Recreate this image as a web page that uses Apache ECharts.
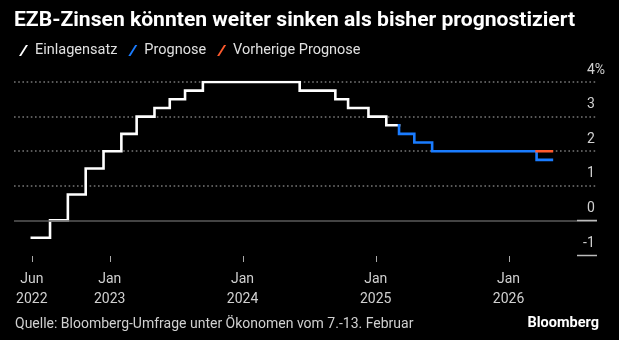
<!DOCTYPE html>
<html>
<head>
<meta charset="utf-8">
<script src="https://cdn.jsdelivr.net/npm/echarts@6/dist/echarts.min.js"></script>
<style>
  html, body { margin: 0; padding: 0; background: #000; }
  #chart { width: 619px; height: 340px; }
</style>
</head>
<body>
<div id="chart"></div>
<script>
// ECB deposit rate (value effective from each decision date; last entry closes the segment)
const depositDates = ['2022-06-01', '2022-07-21', '2022-09-08', '2022-10-27', '2022-12-15',
  '2023-02-02', '2023-03-16', '2023-05-04', '2023-06-15', '2023-07-27', '2023-09-14',
  '2024-06-06', '2024-09-12', '2024-10-17', '2024-12-12', '2025-01-30', '2025-03-06'];
const depositRates = [-0.5, 0, 0.75, 1.5, 2.0, 2.5, 3.0, 3.25, 3.5, 3.75, 4.0,
  3.75, 3.5, 3.25, 3.0, 2.75, 2.75];

// Survey forecast path
const forecastDates = ['2025-03-06', '2025-04-17', '2025-06-05', '2026-03-19', '2026-04-30'];
const forecastRates = [2.5, 2.25, 2.0, 1.75, 1.75];

// Previous survey forecast where it differs
const priorDates = ['2026-03-19', '2026-04-30'];
const priorRates = [2.0, 2.0];

const seriesNames = ['Einlagensatz', 'Prognose', 'Vorherige Prognose'];
const xTickDates = ['2022-06-01', '2023-01-01', '2024-01-01', '2025-01-01', '2026-01-01'];
const xTickLabels = ['Jun\n2022', 'Jan\n2023', 'Jan\n2024', 'Jan\n2025', 'Jan\n2026'];
const yTicks = [-1, 0, 1, 2, 3, 4];
const xRange = ['2022-04-13', '2026-09-01'];

const titleText = 'EZB-Zinsen könnten weiter sinken als bisher prognostiziert';
const sourceText = 'Quelle: Bloomberg-Umfrage unter Ökonomen vom 7.-13. Februar';

const ts = s => new Date(s + 'T00:00:00Z').getTime();
const pairs = (dates, rates) => dates.map((d, i) => [ts(d), rates[i]]);

const depositData = pairs(depositDates, depositRates);
// forecast starts from the last observed rate so the first cut connects
const forecastData = [depositData[depositData.length - 1]].concat(pairs(forecastDates, forecastRates));
const priorData = pairs(priorDates, priorRates);
const xTickValues = xTickDates.map(ts);

const FONT = 'Roboto';
const colors = { deposit: '#ffffff', forecast: '#1a7cff', prior: '#ff5b2e' };
const slash = 'path://M8,0 L10.5,0 L2.5,13 L0,13 Z';

const chart = echarts.init(document.getElementById('chart'), null, { renderer: 'canvas' });

const stepLine = (name, data, color, z) => ({
  name, type: 'line', data, step: 'end', showSymbol: false, z,
  lineStyle: { color, width: 2.6, join: 'miter', cap: 'square' },
  itemStyle: { color },
  emphasis: { disabled: true },
  animation: false
});

chart.setOption({
  backgroundColor: '#000',
  animation: false,
  textStyle: { fontFamily: FONT },
  title: {
    text: titleText,
    left: 9, top: 5,
    textStyle: { color: '#fff', fontSize: 21.1, fontWeight: 'bold', fontFamily: FONT }
  },
  legend: {
    data: seriesNames,
    left: 14, top: 38,
    icon: slash,
    itemWidth: 9, itemHeight: 13, itemGap: 11,
    textStyle: { color: '#e0e0e0', fontSize: 14.5, fontFamily: FONT, padding: [0, 0, 0, 2] },
    selectedMode: false
  },
  grid: { left: 14, right: 22, top: 82, bottom: 85, containLabel: false },
  xAxis: {
    type: 'value',
    min: ts(xRange[0]), max: ts(xRange[1]),
    axisLine: { show: false },
    axisTick: { show: false },
    axisLabel: {
      customValues: xTickValues,
      formatter: v => xTickLabels[xTickValues.indexOf(v)] || '',
      color: '#d0d0d0', fontSize: 14, lineHeight: 20, margin: 14, fontFamily: FONT
    },
    splitLine: { show: false }
  },
  yAxis: {
    type: 'value',
    position: 'right',
    min: yTicks[0], max: yTicks[yTicks.length - 1], interval: 1,
    axisLine: { show: false },
    axisTick: { show: false },
    axisLabel: {
      margin: 8,
      align: 'right',
      verticalAlign: 'bottom',
      padding: [0, 0, 5, 0],
      formatter: v => v === yTicks[yTicks.length - 1] ? '{n|' + v + '%}' : '{n|' + v + '}{h|%}',
      rich: {
        n: { color: '#d0d0d0', fontSize: 14, fontFamily: FONT },
        h: { color: 'transparent', fontSize: 14, fontFamily: FONT }
      }
    },
    splitLine: {
      show: true,
      lineStyle: {
        color: ['transparent', 'transparent', '#777', '#777', '#777', '#777'],
        type: [1.6, 2.6], width: 1.6
      }
    }
  },
  series: [
    stepLine(seriesNames[0], depositData, colors.deposit, 3),
    stepLine(seriesNames[1], forecastData, colors.forecast, 3),
    stepLine(seriesNames[2], priorData, colors.prior, 4),
    {
      name: 'zero', type: 'line', data: [], z: 1, silent: true,
      markLine: {
        silent: true, symbol: 'none', animation: false,
        label: { show: false },
        lineStyle: { color: '#5a5a5a', type: 'solid', width: 1.5 },
        data: [{ yAxis: 0 }]
      }
    }
  ]
});

// axis baseline position and right edge from the chart's own scales
const yBase = Math.round(chart.convertToPixel({ yAxisIndex: 0 }, yTicks[0]));
const xRight = chart.convertToPixel({ xAxisIndex: 0 }, ts(xRange[1]));

// short label rules at the right end of the 0 and -1 levels
const rules = [0, -1].map(v => {
  const y = Math.round(chart.convertToPixel({ yAxisIndex: 0 }, v)) + 0.5;
  return { type: 'line', shape: { x1: xRight - 20, y1: y, x2: xRight, y2: y },
    style: { stroke: '#bbb', lineWidth: 1.5 }, z: 5 };
});

// date tick marks below the plot
const ticks = xTickValues.map(v => {
  const x = Math.round(chart.convertToPixel({ xAxisIndex: 0 }, v)) + 0.5;
  return { type: 'line', shape: { x1: x, y1: yBase + 1, x2: x, y2: yBase + 7 },
    style: { stroke: '#aaa', lineWidth: 1 }, z: 5 };
});

chart.setOption({
  graphic: rules.concat(ticks, [
    { type: 'text', left: 15, top: 317,
      style: { text: sourceText, fill: '#d0d0d0', font: '14px ' + FONT } },
    { type: 'text', right: 20, top: 316,
      style: { text: 'Bloomberg', fill: '#fff', font: 'bold 14.5px ' + FONT } }
  ])
});
</script>
</body>
</html>
